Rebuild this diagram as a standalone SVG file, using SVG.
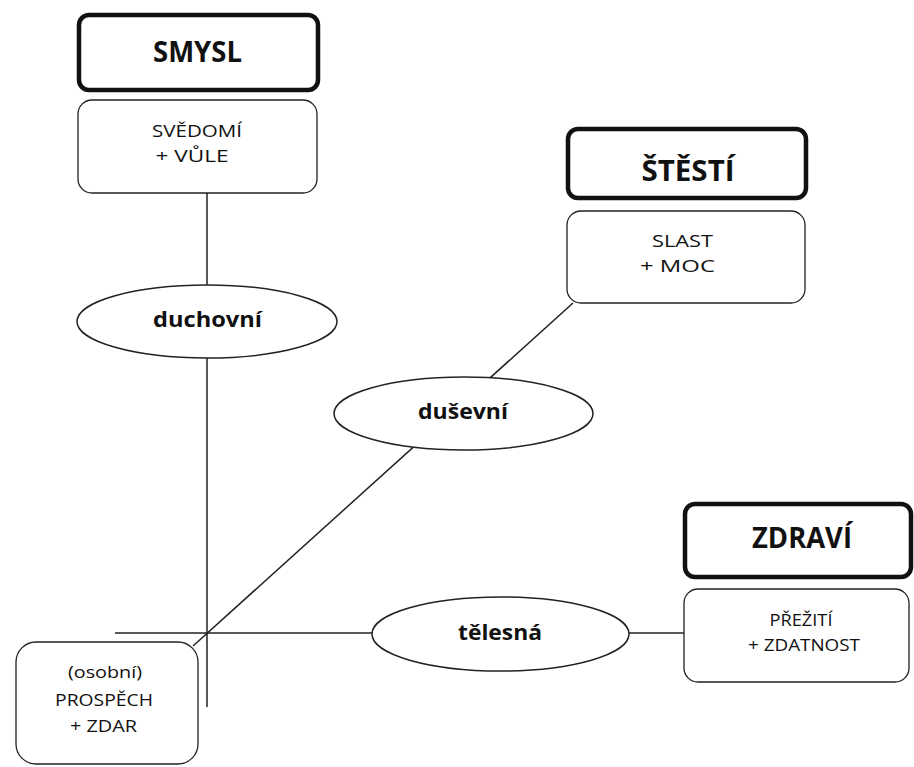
<svg xmlns="http://www.w3.org/2000/svg" width="914" height="767" viewBox="0 0 914 767">
<style>
.head{fill:#fff;stroke:#111;stroke-width:4.5}
.box{fill:#fff;stroke:#222;stroke-width:1.3}
.ell{fill:#fff;stroke:#222;stroke-width:1.5}
.conn{stroke:#222;stroke-width:1.5;fill:none}
text{font-family:"Open Sans","Noto Sans","Liberation Sans",sans-serif;fill:#111;text-anchor:middle}
.ht{font-size:28px;font-weight:bold}
.et{font-size:21px;font-weight:bold}
.st{font-size:17px}
</style>
<rect width="914" height="767" fill="#fff"/>
<g id="connectors">
<line class="conn" x1="207" y1="193" x2="207" y2="707"/>
<line class="conn" x1="115" y1="633" x2="684" y2="633"/>
<line class="conn" x1="573" y1="303" x2="193" y2="646"/>
</g>
<g id="smysl">
<rect class="head" x="79" y="15" width="239" height="75" rx="10"/>
<text class="ht" x="197.5" y="62" textLength="89" lengthAdjust="spacingAndGlyphs">SMYSL</text>
</g>
<g id="svedomi">
<rect class="box" x="78" y="100" width="239" height="93" rx="14"/>
<text class="st" x="197" y="137" textLength="90" lengthAdjust="spacingAndGlyphs">SVĚDOMÍ</text>
<text class="st" x="192" y="162" textLength="73" lengthAdjust="spacingAndGlyphs">+ VŮLE</text>
</g>
<g id="stesti">
<rect class="head" x="568" y="129" width="238" height="69" rx="10"/>
<text class="ht" x="688" y="181" textLength="93" lengthAdjust="spacingAndGlyphs">ŠTĚSTÍ</text>
</g>
<g id="slast">
<rect class="box" x="567" y="211" width="238" height="92" rx="14"/>
<text class="st" x="682.5" y="247" textLength="61" lengthAdjust="spacingAndGlyphs">SLAST</text>
<text class="st" x="677.5" y="272" textLength="75" lengthAdjust="spacingAndGlyphs">+ MOC</text>
</g>
<g id="zdravi">
<rect class="head" x="685" y="504" width="226" height="73" rx="10"/>
<text class="ht" x="802" y="548" textLength="100" lengthAdjust="spacingAndGlyphs">ZDRAVÍ</text>
</g>
<g id="prezititi">
<rect class="box" x="684" y="589" width="225" height="93" rx="14"/>
<text class="st" x="801" y="626" textLength="63" lengthAdjust="spacingAndGlyphs">PŘEŽITÍ</text>
<text class="st" x="804" y="651" textLength="112" lengthAdjust="spacingAndGlyphs">+ ZDATNOST</text>
</g>
<g id="prospech">
<rect class="box" x="16" y="642" width="182" height="122" rx="20"/>
<text class="st" x="105" y="678" textLength="74" lengthAdjust="spacingAndGlyphs">(osobní)</text>
<text class="st" x="104" y="706" textLength="98" lengthAdjust="spacingAndGlyphs">PROSPĚCH</text>
<text class="st" x="103.5" y="732" textLength="67" lengthAdjust="spacingAndGlyphs">+ ZDAR</text>
</g>
<g id="duchovni">
<ellipse class="ell" cx="207" cy="321.5" rx="130" ry="36.5"/>
<text class="et" x="207.5" y="327" textLength="109" lengthAdjust="spacingAndGlyphs">duchovní</text>
</g>
<g id="dusevni">
<ellipse class="ell" cx="463.5" cy="413.5" rx="129.5" ry="36.5"/>
<text class="et" x="463" y="419" textLength="90" lengthAdjust="spacingAndGlyphs">duševní</text>
</g>
<g id="telesna">
<ellipse class="ell" cx="500.5" cy="634" rx="128.5" ry="37"/>
<text class="et" x="500" y="640" textLength="84" lengthAdjust="spacingAndGlyphs">tělesná</text>
</g>
</svg>
